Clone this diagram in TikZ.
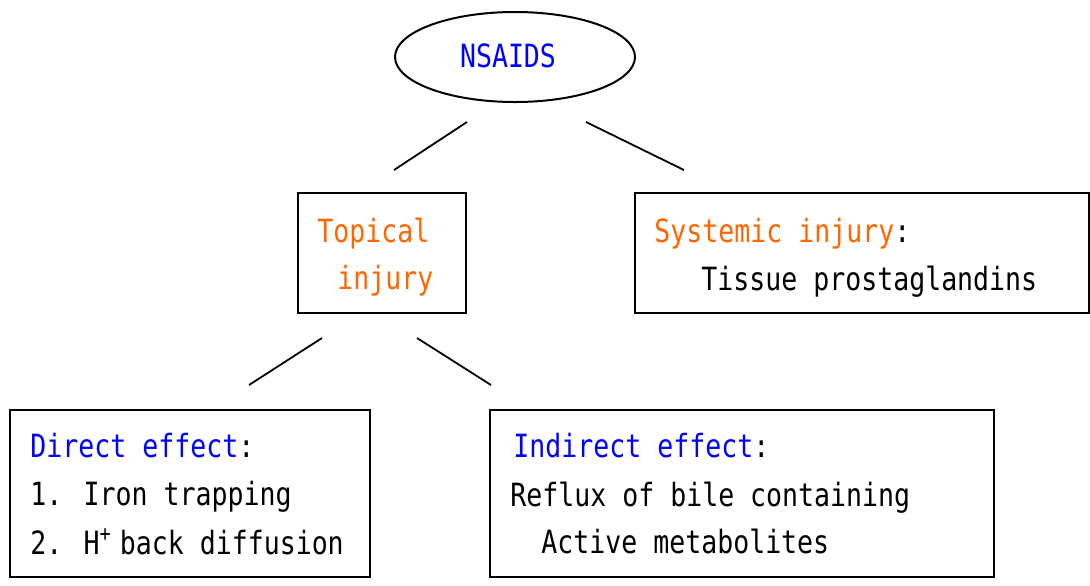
\documentclass[tikz,border=0pt]{standalone}
\usepackage{fontspec}
\usepackage{tikz}
\usetikzlibrary{shapes.geometric}
\newfontfamily\boxfont[FakeStretch=0.83]{DejaVu Sans Mono}
\definecolor{injuryorange}{RGB}{255,102,0}
\definecolor{effectblue}{RGB}{0,0,255}
\tikzset{
  boxnode/.style={draw, line width=1pt, rectangle, inner sep=0pt},
  txt/.style={anchor=base west, inner sep=0pt, font=\boxfont\fontsize{16}{19}\selectfont},
  link/.style={line width=0.9pt},
}

\begin{document}
\begin{tikzpicture}[x=0.5pt,y=-0.5pt]
    \useasboundingbox (0,0) rectangle (1090,585);

    % top of the tree
    \node[draw, ellipse, line width=1pt, minimum width=120pt, minimum height=45pt] (nsaids) at (515,57) {};
    \node[txt, anchor=base, text=effectblue] (nsaidstxt) at (508,67) {NSAIDS};

    % second level
    \node[boxnode, minimum width=84pt, minimum height=60pt] (topical) at (382,253) {};
    \node[txt, text=injuryorange] (topical1) at (317,242) {Topical};
    \node[txt, text=injuryorange] (topical2) at (337,289) {injury};

    \node[boxnode, minimum width=227pt, minimum height=60pt] (systemic) at (861.5,253) {};
    \node[txt] (systemic1) at (654,242) {\textcolor{injuryorange}{Systemic injury}:};
    \node[txt] (systemic2) at (701,290) {Tissue prostaglandins};

    % third level
    \node[boxnode, minimum width=180pt, minimum height=83.5pt] (direct) at (190,493.5) {};
    \node[txt] (direct1) at (30,457) {\textcolor{effectblue}{Direct effect}:};
    \node[txt] (direct2) at (30,505) {1. Iron trapping};
    \node[txt] (direct3) at (30,554) {2. H\textsuperscript{+}\hspace{4pt}back diffusion};

    \node[boxnode, minimum width=252pt, minimum height=83.5pt] (indirect) at (742,493.5) {};
    \node[txt] (indirect1) at (513,457) {\textcolor{effectblue}{Indirect effect}:};
    \node[txt] (indirect2) at (510,506) {Reflux of bile containing};
    \node[txt] (indirect3) at (541,553) {Active metabolites};

    % connectors
    \coordinate (nsL) at (467,122);
    \coordinate (topU) at (394,170);
    \coordinate (nsR) at (586,122);
    \coordinate (sysU) at (684,170);
    \coordinate (topL) at (322,338);
    \coordinate (dirU) at (249,385);
    \coordinate (topR) at (417,338);
    \coordinate (indU) at (491,385);

    \draw[link] (nsL) -- (topU);
    \draw[link] (nsR) -- (sysU);
    \draw[link] (topL) -- (dirU);
    \draw[link] (topR) -- (indU);
\end{tikzpicture}
\end{document}
